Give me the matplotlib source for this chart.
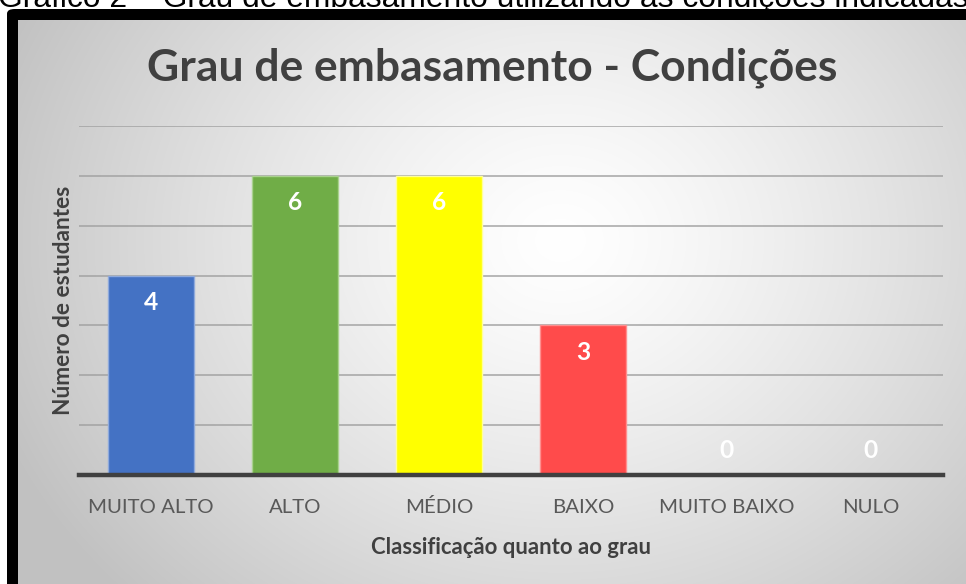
import numpy as np
import matplotlib
matplotlib.use("Agg")
import matplotlib.pyplot as plt
from matplotlib.patches import FancyBboxPatch

categories = ["MUITO ALTO", "ALTO", "MÉDIO", "BAIXO", "MUITO BAIXO", "NULO"]
values = [4, 6, 6, 3, 0, 0]
bar_colors = ["#4472C4", "#70AD47", "#FFFF00", "#FF4B4B", "#A5A5A5", "#A5A5A5"]
edge_colors = ["#8FAADC", "#A9D18E", "#FFFF99", "#FF8F8F", "#D0D0D0", "#D0D0D0"]
title = "Grau de embasamento - Condições"
caption = "Gráfico 2 – Grau de embasamento utilizando as condições indicadas"
xlabel = "Classificação quanto ao grau"
ylabel = "Número de estudantes"

W, H = 966, 584
fig = plt.figure(figsize=(W / 100, H / 100), dpi=100)
fig.patch.set_facecolor("white")
renderer = fig.canvas.get_renderer()

FONT = "Lato"


def fit_size(text, target_px, weight="normal", family=FONT):
    t = fig.text(0, 0, text, fontsize=10, fontweight=weight, family=family)
    w = t.get_window_extent(renderer=renderer).width
    t.remove()
    return 10 * target_px / w


def fx(px):
    return px / W


def fy(py):
    return 1 - py / H


# caption (mostly hidden behind frame, cut at top as in the source image)
cap_fs = fit_size(caption, 972, family="Liberation Sans")
fig.text(fx(-2), fy(7.5), caption, fontsize=cap_fs, family="Liberation Sans",
         color="black", ha="left", va="baseline", zorder=-3)

# black frame
frame = FancyBboxPatch((fx(7), fy(1000)), fx(1100), fy(9) - fy(1000),
                       boxstyle="round,pad=0,rounding_size=0.008",
                       transform=fig.transFigure, facecolor="black",
                       edgecolor="none", zorder=-2)
fig.patches.append(frame)

# gradient background
bg = fig.add_axes([fx(18), 0, 1 - fx(18), fy(20)])
bg.set_zorder(-1)
bg.axis("off")
x0, x1, y0, y1 = 18, 966, 20, 584
xx, yy = np.meshgrid(np.arange(x0, x1), np.arange(y0, y1))
cx, cy = 560, 240
r = np.sqrt(((xx - cx) / 1.0) ** 2 + ((yy - cy) / 0.85) ** 2)
rmax = np.sqrt((cx - x0) ** 2 + ((cy - y0) / 0.85) ** 2)
t = np.clip(r / rmax, 0, 1)
lo, hi = 0.76, 1.0
gray = hi - (hi - lo) * np.clip(t, 0, 1) ** 1.3
img = np.dstack([gray, gray, gray])
bg.imshow(img, extent=[x0, x1, y1, y0], aspect="auto", interpolation="bilinear")
bg.set_xlim(x0, x1)
bg.set_ylim(y1, y0)

# main axes
ax = fig.add_axes([fx(79), fy(475), fx(943) - fx(79), fy(126) - fy(475)])
ax.set_zorder(1)
ax.patch.set_alpha(0)
x = np.arange(len(categories))
bars = ax.bar(x, values, width=0.6, color=bar_colors, edgecolor=edge_colors,
              linewidth=1.0, zorder=3)
ax.set_xlim(-0.5, len(categories) - 0.5)
ax.set_ylim(0, 7)
ax.set_yticks(np.arange(1, 8))
ax.yaxis.grid(True, color="#a0a0a0", linewidth=1.3, alpha=0.8, zorder=0)
ax.tick_params(axis="y", left=False, labelleft=False)
ax.tick_params(axis="x", bottom=False, labelbottom=False)
for s in ["top", "right", "left"]:
    ax.spines[s].set_visible(False)
ax.spines["bottom"].set_color("#404040")
ax.spines["bottom"].set_linewidth(3.2)
ax.spines["bottom"].set_zorder(4)

tick_fs = fit_size("MUITO ALTO", 125)
ax.set_xticks(x)
for xi, c in zip(x, categories):
    ax.annotate(c, (xi, 0), xycoords=("data", "axes fraction"),
                xytext=(0, -38), textcoords="offset pixels",
                ha="center", va="baseline", fontsize=tick_fs, family=FONT,
                color="#595959", annotation_clip=False)

val_fs = tick_fs * 1.2
for xi, v in zip(x, values):
    off = -27 if v > 0 else 25
    ax.annotate(str(v), (xi, v), xytext=(0, off), textcoords="offset pixels",
                ha="center", va="center", fontsize=val_fs, fontweight="bold",
                family=FONT, color="white", zorder=5)

title_fs = fit_size(title, 691, weight="bold")
fig.text(fx(492.5), fy(68), title, fontsize=title_fs, fontweight="bold",
         family=FONT, color="#404040", ha="center", va="center")

xl_fs = fit_size(xlabel, 280, weight="bold")
fig.text(fx(511), fy(548), xlabel, fontsize=xl_fs, fontweight="bold",
         family=FONT, color="#404040", ha="center", va="center")

yl_fs = fit_size(ylabel, 230, weight="bold")
fig.text(fx(64), fy(300), ylabel, fontsize=yl_fs, fontweight="bold",
         family=FONT, color="#404040", ha="center", va="center", rotation=90)

fig.savefig("out.png", dpi=100)
